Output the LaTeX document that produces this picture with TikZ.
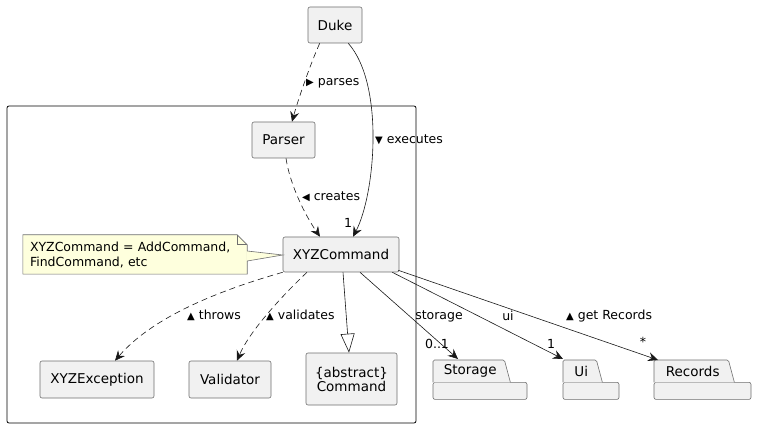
\documentclass[tikz,border=0pt]{standalone}
\usepackage{fontspec}
\setmainfont{DejaVu Sans}
\usetikzlibrary{arrows.meta,calc}
\definecolor{boxfill}{HTML}{F1F1F1}
\definecolor{boxline}{HTML}{6E6E6E}
\definecolor{notefill}{HTML}{FEFFDD}
\definecolor{edgecol}{HTML}{181818}
\newcommand{\trig}[1]{{\fontsize{10}{10}\selectfont #1}}
\begin{document}
\begin{tikzpicture}[x=1pt,y=-1pt,
  cls/.style={draw=boxline, line width=0.6pt, fill=boxfill, rounded corners=2pt, inner sep=0pt,
    font=\fontsize{13.5}{16}\selectfont, align=center},
  tabnode/.style={inner sep=0pt, anchor=north west, minimum height=22pt, font=\fontsize{13.5}{16}\selectfont},
  pkgshape/.style={draw=boxline, line width=0.6pt, fill=boxfill},
  lbl/.style={font=\fontsize{12.5}{15}\selectfont, inner sep=0pt},
  arr/.style={-{Stealth[length=10pt,width=9pt,inset=3.5pt]}, line width=0.6pt, draw=edgecol},
  dsh/.style={dash pattern=on 6pt off 4pt},
  gen/.style={-{Triangle[open,length=19pt,width=14pt,fill=white]}, line width=0.6pt, draw=edgecol},
]
\useasboundingbox (0,0) rectangle (757,427);

% frame
\draw[rounded corners=2pt, line width=0.8pt] (7,106) rectangle (416,423);

% classes
\node[cls, minimum width=54pt, minimum height=36pt] (duke) at (335,25) {Duke};
\node[cls, minimum width=63pt, minimum height=36pt] (parser) at (283.5,140) {Parser};
\node[cls, minimum width=116pt, minimum height=35pt] (xyz) at (341,254.5) {XYZCommand};
\node[cls, minimum width=114pt, minimum height=37pt] (xyzex) at (97,379.5) {XYZException};
\node[cls, minimum width=82pt, minimum height=37pt] (valid) at (230,379.5) {Validator};
\node[cls, minimum width=91pt, minimum height=52pt] (command) at (351.5,379) {\{abstract\}\\[-2pt]Command};

% note
\node[inner sep=0pt, inner xsep=7pt, text width=210pt, minimum height=39pt, align=left,
  font=\fontsize{12.5}{15}\selectfont] (note) at (135,254.5) {};
\fill[notefill] (note.south west) -- (note.north west) -- ($(note.north east)+(-10,0)$)
  -- ($(note.north east)+(0,10)$) -- (note.south east) -- cycle;
\draw[boxline, line width=0.6pt] (note.south west) -- (note.north west) -- ($(note.north east)+(-10,0)$)
  -- ($(note.north east)+(0,10)$) -- (note.south east) -- cycle;
\draw[boxline, line width=0.6pt] ($(note.north east)+(-10,0)$) -- ($(note.north east)+(-10,10)$) -- ($(note.north east)+(0,10)$);
\fill[notefill] ($(note.east)+(-0.8,-3.5)$) -- ($(xyz.west)+(0,0.5)$) -- ($(note.east)+(-0.8,6.5)$) -- cycle;
\draw[boxline, line width=0.6pt] ($(note.east)+(0,-3.5)$) -- ($(xyz.west)+(0,0.5)$) -- ($(note.east)+(0,6.5)$);
\node[inner sep=0pt, inner xsep=7pt, text width=210pt, minimum height=39pt, align=left,
  font=\fontsize{12.5}{15}\selectfont] (notetext) at (135,254.5) {XYZCommand = AddCommand,\\FindCommand, etc};

% packages
\node[tabnode, minimum width=74pt] (storage) at (433,360) {};
\node[tabnode, minimum width=36pt] (ui) at (563,360) {};
\node[tabnode, minimum width=77pt] (records) at (654,360) {};
\foreach \p/\w in {storage/94, ui/56, records/97}{
  \draw[pkgshape, rounded corners=2pt] (\p.south west) rectangle ++(\w,17);
  \draw[pkgshape, rounded corners=1.5pt] (\p.south west) -- (\p.north west) -- ($(\p.north east)+(-3,0)$) -- ($(\p.south east)+(3,0)$);
}
\node[tabnode, minimum width=74pt] (storagetxt) at (storage.north west) {Storage};
\node[tabnode, minimum width=36pt] (uitxt) at (ui.north west) {Ui};
\node[tabnode, minimum width=77pt] (recordstxt) at (records.north west) {Records};

% edges
\draw[arr,dsh] ($(duke.south west)+(12,0)$) .. controls (310,65) and (298,100) .. ($(parser.north)+(8.5,0)$);
\node[lbl, anchor=west] (lparses) at (306,83) {\trig{▶} parses};

\draw[arr] ($(duke.south east)+(-14,0)$) .. controls (385,85) and (375,195) .. ($(xyz.north)+(12,0)$);
\node[lbl, anchor=west] (lexec) at (375,140) {\trig{▼} executes};
\node[lbl] (mexec) at (348,223) {1};

\draw[arr,dsh] ($(parser.south)+(2.5,0)$) .. controls (290,185) and (305,215) .. ($(xyz.north)+(-21,0)$);
\node[lbl, anchor=west] (lcreates) at (302,197) {\trig{◀} creates};

\draw[arr,dsh] (xyz.south west) .. controls (210,293) and (150,320) .. ($(xyzex.north)+(18,0)$);
\node[lbl, anchor=west] (lthrows) at (187,315) {\trig{▲} throws};

\draw[arr,dsh] ($(xyz.south)+(-34,0)$) .. controls (285,293) and (250,330) .. ($(valid.north)+(7,0)$);
\node[lbl, anchor=west] (lvalid) at (266,315) {\trig{▲} validates};

\draw[gen] ($(xyz.south)+(2,0)$) -- ($(command.north)+(-2.5,0)$);

\draw[arr] ($(xyz.south)+(19,0)$) -- ($(storage.north west)+(25,-1)$);
\node[lbl] (lstor) at (439,316) {storage};
\node[lbl] (mstor) at (437,344) {0..1};

\draw[arr] ($(xyz.south east)+(-7,0)$) -- ($(ui.north west)+(0,-1)$);
\node[lbl] (lui) at (508,316) {ui};
\node[lbl] (mui) at (551,344) {1};

\draw[arr] ($(xyz.south east)+(-1,-2)$) -- ($(records.north west)+(4,0)$);
\node[lbl, anchor=west] (lrec) at (566,316) {\trig{▲} get Records};
\node[lbl] (mrec) at (643,342) {*};
\end{tikzpicture}
\end{document}
